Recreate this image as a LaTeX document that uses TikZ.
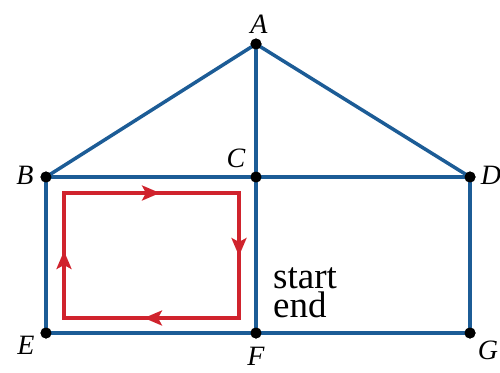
\documentclass[tikz,border=0pt]{standalone}
\usepackage{fontspec}
\setmainfont{Liberation Serif}
\usetikzlibrary{arrows.meta}
\definecolor{edgeblue}{RGB}{28,92,150}
\definecolor{loopred}{RGB}{208,35,45}
\tikzset{
  edge/.style={draw=edgeblue, line width=3.5pt},
  vtx/.style={circle, fill=black, inner sep=0pt, minimum size=11pt},
  lbl/.style={font=\fontsize{28}{30}\selectfont\itshape, inner sep=0pt},
  redline/.style={draw=loopred, line width=3.2pt},
  redarrow/.style={redline, -{Stealth[length=18pt,width=15pt,inset=4pt]}},
  txt/.style={font=\fontsize{37}{29}\selectfont, inner sep=0pt, align=left, anchor=south west}
}
\begin{document}
\begin{tikzpicture}[x=1pt,y=-1pt]
\useasboundingbox (0,0) rectangle (500,372);
\node[vtx] (A) at (256,44) {};
\node[vtx] (B) at (46,177) {};
\node[vtx] (C) at (256,177) {};
\node[vtx] (D) at (470,177) {};
\node[vtx] (E) at (46,333) {};
\node[vtx] (F) at (256,333) {};
\node[vtx] (G) at (470,333) {};
\draw[edge] (A.center) -- (B.center);
\draw[edge] (A.center) -- (D.center);
\draw[edge] (A.center) -- (C.center);
\draw[edge] (B.center) -- (C.center);
\draw[edge] (C.center) -- (D.center);
\draw[edge] (B.center) -- (E.center);
\draw[edge] (C.center) -- (F.center);
\draw[edge] (D.center) -- (G.center);
\draw[edge] (E.center) -- (F.center);
\draw[edge] (F.center) -- (G.center);
\foreach \n in {A,B,C,D,E,F,G} \node[vtx] at (\n) {};
\node[lbl] (lA) at (259,24) {A};
\node[lbl] (lB) at (25,175) {B};
\node[lbl] (lC) at (236,158) {C};
\node[lbl] (lD) at (491,175) {D};
\node[lbl] (lE) at (26,345) {E};
\node[lbl] (lF) at (256,356) {F};
\node[lbl] (lG) at (488,350) {G};
\node[txt] (se) at (273,318) {start\\end};
\draw[redline] (64,193) rectangle (239,318);
\draw[redarrow] (138,193) -- (160,193);
\draw[redarrow] (239,234) -- (239,256);
\draw[redarrow] (166,318) -- (144,318);
\draw[redarrow] (64,274) -- (64,251);
\end{tikzpicture}
\end{document}
